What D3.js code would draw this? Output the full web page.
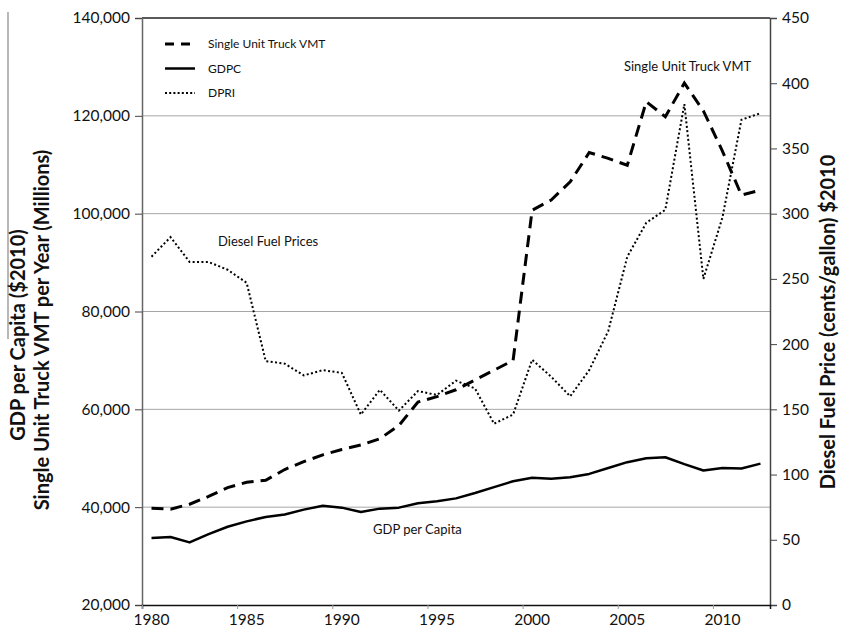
<!DOCTYPE html>
<html>
<head>
<meta charset="utf-8">
<script src="https://cdn.jsdelivr.net/npm/d3@7"></script>
<style>
  html, body { margin: 0; padding: 0; background: #fff; }
  svg { display: block; font-family: Lato, "Open Sans", sans-serif; }
</style>
</head>
<body>
<svg id="chart" width="842" height="635"></svg>
<script>
const years = d3.range(1980, 2013);
const vmt = [39800, 39600, 40600, 42200, 44000, 45100, 45500, 47700, 49300, 50700, 51800, 52700, 54000, 56700, 61500, 62600, 64000, 66000, 68000, 70000, 100700, 102800, 106500, 112500, 111300, 109900, 122900, 119800, 126700, 121000, 112800, 103800, 104800];
const gdpc = [33700, 33900, 32800, 34500, 36000, 37100, 38000, 38500, 39500, 40300, 39900, 39000, 39700, 39900, 40800, 41200, 41800, 42900, 44100, 45300, 46000, 45800, 46100, 46800, 48000, 49200, 50000, 50200, 48800, 47500, 48000, 47900, 48900];
const dpri = [267, 282, 263, 263, 257, 247, 187, 185, 176, 180, 178, 146, 165, 149, 164, 161, 172, 166, 139, 146, 188, 175, 160, 180, 210, 267, 293, 303, 384, 250, 297, 372, 377];
const leftTicks = [20000, 40000, 60000, 80000, 100000, 120000, 140000];
const rightTicks = [0, 50, 100, 150, 200, 250, 300, 350, 400, 450];
const xTickYears = [1980, 1985, 1990, 1995, 2000, 2005, 2010];

const legendItems = [
  {label: "Single Unit Truck VMT", dash: "9,7", width: 3},
  {label: "GDPC", dash: null, width: 2.5},
  {label: "DPRI", dash: "2,2.2", width: 2}
];

const L = 142, R = 770, T = 18, B = 605;
const svg = d3.select("#chart");

const x = d3.scaleBand().domain(years).range([L, R]).padding(0);
const xc = d => x(d) + x.bandwidth() / 2;
const xLin = d3.scaleLinear().domain([1980, 2013]).range([L, R]);
const yL = d3.scaleLinear().domain([20000, 140000]).range([B, T]);
const yR = d3.scaleLinear().domain([0, 450]).range([B, T]);

// gridlines
svg.append("g").selectAll("line").data(leftTicks.filter(v => v > 20000 && v < 140000)).join("line")
  .attr("x1", L).attr("x2", R).attr("y1", d => yL(d)).attr("y2", d => yL(d))
  .attr("stroke", "#a6a6a6").attr("stroke-width", 1);
svg.append("line").attr("x1", L).attr("x2", R).attr("y1", yL(140000)).attr("y2", yL(140000))
  .attr("stroke", "#222").attr("stroke-width", 1.3);

// left axis
const fmt = d3.format(",");
const gL = svg.append("g").attr("transform", `translate(${L},0)`)
  .call(d3.axisLeft(yL).tickValues(leftTicks).tickFormat(fmt).tickSize(7).tickPadding(5));
gL.select(".domain").attr("stroke", "#666").attr("stroke-width", 1.5);
gL.selectAll(".tick line").attr("stroke", "#444");
gL.selectAll("text").attr("font-size", 15.5).attr("fill", "#111").attr("font-family", "Lato, sans-serif");

// right axis
const gR = svg.append("g").attr("transform", `translate(${R},0)`)
  .call(d3.axisRight(yR).tickValues(rightTicks).tickSize(7).tickPadding(5));
gR.select(".domain").attr("stroke", "#444").attr("stroke-width", 1.5);
gR.selectAll(".tick line").attr("stroke", "#444");
gR.selectAll("text").attr("font-size", 15.5).attr("fill", "#111").attr("font-family", "Lato, sans-serif");

// bottom axis: ticks at category boundaries, labels at category centers
const gBt = svg.append("g").attr("transform", `translate(0,${B})`)
  .call(d3.axisBottom(xLin).tickValues(xTickYears).tickFormat("").tickSize(4));
gBt.select(".domain").attr("stroke", "#111").attr("stroke-width", 1.5);
gBt.selectAll(".tick line").attr("stroke", "#999");
const gBl = svg.append("g").attr("transform", `translate(0,${B})`)
  .call(d3.axisBottom(x).tickValues(xTickYears).tickSize(0).tickPadding(9));
gBl.select(".domain").remove();
gBl.selectAll("text").attr("font-size", 15.5).attr("fill", "#111").attr("font-family", "Lato, sans-serif");

// lines
const lineL = vals => d3.line().x((d, i) => xc(years[i])).y(d => yL(d))(vals);
const lineR = vals => d3.line().x((d, i) => xc(years[i])).y(d => yR(d))(vals);
svg.append("path").attr("d", lineL(gdpc)).attr("fill", "none").attr("stroke", "#000")
  .attr("stroke-width", 2.5).attr("stroke-linejoin", "round");
svg.append("path").attr("d", lineR(dpri)).attr("fill", "none").attr("stroke", "#000")
  .attr("stroke-width", 2).attr("stroke-dasharray", "2,2.4");
svg.append("path").attr("d", lineL(vmt)).attr("fill", "none").attr("stroke", "#000")
  .attr("stroke-width", 3).attr("stroke-dasharray", "12,7");

// legend
const lg = svg.append("g");
legendItems.forEach((it, i) => {
  const yy = 44 + i * 24.5;
  lg.append("line").attr("x1", 165).attr("x2", 195).attr("y1", yy).attr("y2", yy)
    .attr("stroke", "#000").attr("stroke-width", it.width)
    .attr("stroke-dasharray", it.dash);
  lg.append("text").attr("x", 208).attr("y", yy).attr("dy", "0.35em")
    .attr("font-size", 12).attr("fill", "#111").text(it.label);
});

// annotations
svg.append("text").attr("x", 218).attr("y", 241).attr("dy", "0.35em").attr("font-size", 13).attr("fill", "#111").text("Diesel Fuel Prices");
svg.append("text").attr("x", 624).attr("y", 66).attr("dy", "0.35em").attr("font-size", 13).attr("fill", "#111").text("Single Unit Truck VMT");
svg.append("text").attr("x", 373).attr("y", 529).attr("dy", "0.35em").attr("font-size", 13).attr("fill", "#111").text("GDP per Capita");

// axis titles
svg.append("line").attr("x1", 8).attr("x2", 8).attr("y1", 12).attr("y2", 339).attr("stroke", "#888").attr("stroke-width", 1.2);
svg.append("text").attr("transform", "translate(18,335) rotate(-90)").attr("text-anchor", "middle").attr("dy", "0.35em")
  .attr("font-size", 20).attr("font-weight", "bold").attr("fill", "#111").text("GDP per Capita ($2010)");
svg.append("text").attr("transform", "translate(42,330) rotate(-90)").attr("text-anchor", "middle").attr("dy", "0.35em")
  .attr("font-size", 20).attr("font-weight", "bold").attr("fill", "#111").text("Single Unit Truck VMT per Year (Millions)");
svg.append("text").attr("transform", "translate(828,322) rotate(-90)").attr("text-anchor", "middle").attr("dy", "0.35em")
  .attr("font-size", 20).attr("font-weight", "bold").attr("fill", "#111").text("Diesel Fuel Price (cents/gallon) $2010");
</script>
</body>
</html>
